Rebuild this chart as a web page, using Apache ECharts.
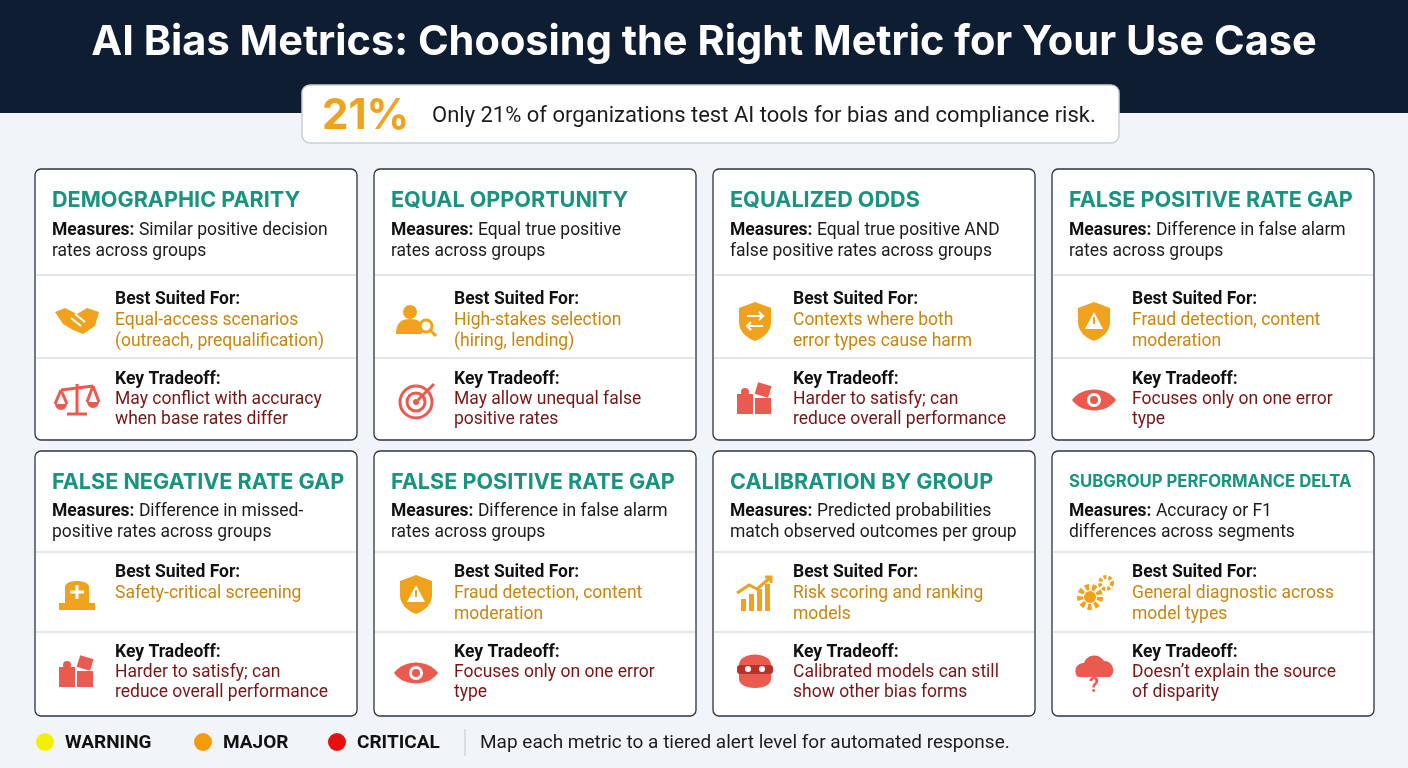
<!DOCTYPE html>
<html>
<head>
<meta charset="utf-8">
<script src="https://cdn.jsdelivr.net/npm/echarts@6/dist/echarts.min.js"></script>
<style>html,body{margin:0;padding:0;background:#f1f4f8}#main{width:1408px;height:768px}</style>
</head>
<body>
<div id="main"></div>
<script>
var titles = ['DEMOGRAPHIC PARITY', 'EQUAL OPPORTUNITY', 'EQUALIZED ODDS', 'FALSE POSITIVE RATE GAP',
  'FALSE NEGATIVE RATE GAP', 'FALSE POSITIVE RATE GAP', 'CALIBRATION BY GROUP', 'SUBGROUP PERFORMANCE DELTA'];
var measures = [
  ['Similar positive decision', 'rates across groups'],
  ['Equal true positive', 'rates across groups'],
  ['Equal true positive AND', 'false positive rates across groups'],
  ['Difference in false alarm', 'rates across groups'],
  ['Difference in missed-', 'positive rates across groups'],
  ['Difference in false alarm', 'rates across groups'],
  ['Predicted probabilities', 'match observed outcomes per group'],
  ['Accuracy or F1', 'differences across segments']
];
var bestFor = [
  ['Equal-access scenarios', '(outreach, prequalification)'],
  ['High-stakes selection', '(hiring, lending)'],
  ['Contexts where both', 'error types cause harm'],
  ['Fraud detection, content', 'moderation'],
  ['Safety-critical screening'],
  ['Fraud detection, content', 'moderation'],
  ['Risk scoring and ranking', 'models'],
  ['General diagnostic across', 'model types']
];
var tradeoffs = [
  ['May conflict with accuracy', 'when base rates differ'],
  ['May allow unequal false', 'positive rates'],
  ['Harder to satisfy; can', 'reduce overall performance'],
  ['Focuses only on one error', 'type'],
  ['Harder to satisfy; can', 'reduce overall performance'],
  ['Focuses only on one error', 'type'],
  ['Calibrated models can still', 'show other bias forms'],
  ["Doesn\u2019t explain the source", 'of disparity']
];
var bestIcons = ['hand', 'person', 'shield', 'alert', 'siren', 'alert', 'chart', 'gear'];
var tradeIcons = ['scale', 'target', 'puzzle', 'eye', 'puzzle', 'eye', 'mask', 'cloud'];
var alertLevels = ['WARNING', 'MAJOR', 'CRITICAL'];
var alertColors = ['#f5f000', '#f59a0c', '#ea0f0f'];
var alertX = [45, 203, 337];

var FONT = 'Roboto, "Noto Sans", sans-serif';
var ORANGE = '#f0a21c', CORAL = '#ea5a4e';
var g = [];
var pathCount = 0;

function svgPath(d, style) {
  var name = 'svgp' + (pathCount++);
  echarts.graphic.registerShape(name, echarts.graphic.extendPath(d, {}));
  return {type: name, style: style};
}
function txt(x, y, s, size, color, weight, align, font) {
  g.push({type: 'text', x: x, y: y, style: {text: s, fontSize: size, fill: color, fontWeight: weight || 'normal',
    fontFamily: font || FONT, textAlign: align || 'left', textVerticalAlign: 'middle'}});
}
function icon(kind, cx, cy, color) {
  var c = [];
  var st = {fill: color};
  var so = {fill: 'none', stroke: color, lineWidth: 3};
  var wl = {fill: 'none', stroke: '#fff', lineWidth: 2};
  if (kind === 'shield' || kind === 'alert') {
    c.push(svgPath('M0,-18 L16,-12 L16,2 C16,12 8,18 0,21 C-8,18 -16,12 -16,2 L-16,-12 Z', st));
    if (kind === 'alert') c.push({type: 'polygon', shape: {points: [[0, -8], [9, 9], [-9, 9]]}, style: {fill: '#fff'}},
      {type: 'rect', shape: {x: -1, y: -3, width: 2, height: 7}, style: {fill: color}});
    else c.push(svgPath('M-8,-4 L8,-4 M4,-8 L8,-4 L4,0 M8,6 L-8,6 M-4,2 L-8,6 L-4,10', wl));
  } else if (kind === 'hand') {
    c.push(svgPath('M-22,-8 L-12,-12 L0,-6 L10,-12 L22,-8 L18,6 L6,14 L-4,10 L-14,4 Z', st));
    c.push(svgPath('M-6,-2 L4,6 M-2,-6 L8,2', wl));
  } else if (kind === 'person') {
    c.push({type: 'circle', shape: {cx: -6, cy: -8, r: 7}, style: st});
    c.push(svgPath('M-20,14 C-20,2 -14,-1 -6,-1 C2,-1 6,2 6,8 L6,14 Z', st));
    c.push({type: 'circle', shape: {cx: 10, cy: 6, r: 6}, style: {fill: '#fff', stroke: color, lineWidth: 3}});
    c.push({type: 'line', shape: {x1: 14, y1: 10, x2: 20, y2: 16}, style: {stroke: color, lineWidth: 3}});
  } else if (kind === 'siren') {
    c.push(svgPath('M-12,10 L-12,-6 C-12,-14 12,-14 12,-6 L12,10 Z', st));
    c.push({type: 'rect', shape: {x: -18, y: 10, width: 36, height: 7}, style: st});
    c.push(svgPath('M0,-8 L0,6 M-7,-1 L7,-1', {fill: 'none', stroke: '#fff', lineWidth: 3}));
  } else if (kind === 'chart') {
    [-14, -6, 2, 10].forEach(function (x, i) {
      c.push({type: 'rect', shape: {x: x, y: 6 - i * 5, width: 5, height: 12 + i * 5}, style: st});
    });
    c.push(svgPath('M-18,0 L-6,-8 L2,-4 L16,-16 M10,-16 L16,-16 L16,-10', so));
  } else if (kind === 'gear') {
    c.push({type: 'circle', shape: {cx: -4, cy: 4, r: 10}, style: {fill: 'none', stroke: color, lineWidth: 6, lineDash: [4, 3]}});
    c.push({type: 'circle', shape: {cx: -4, cy: 4, r: 6}, style: st});
    c.push({type: 'circle', shape: {cx: 12, cy: -10, r: 6}, style: {fill: 'none', stroke: color, lineWidth: 4, lineDash: [3, 2]}});
  } else if (kind === 'scale') {
    c.push(svgPath('M0,-16 L0,14 M-10,14 L10,14 M-16,-10 L16,-14 M-16,-10 L-22,4 M-16,-10 L-10,4 M16,-14 L10,2 M16,-14 L22,2', so));
    c.push(svgPath('M-22,4 A6,6 0 0 0 -10,4 Z M10,2 A6,6 0 0 0 22,2 Z', st));
  } else if (kind === 'target') {
    c.push({type: 'circle', shape: {cx: 0, cy: 2, r: 16}, style: so});
    c.push({type: 'circle', shape: {cx: 0, cy: 2, r: 9}, style: so});
    c.push({type: 'circle', shape: {cx: 0, cy: 2, r: 3}, style: st});
    c.push({type: 'line', shape: {x1: 2, y1: 0, x2: 18, y2: -16}, style: {stroke: color, lineWidth: 3}});
  } else if (kind === 'puzzle') {
    c.push({type: 'rect', shape: {x: -18, y: -6, width: 16, height: 20}, style: st});
    c.push({type: 'rect', shape: {x: 0, y: -2, width: 16, height: 16}, style: st});
    c.push({type: 'rect', x: 2, y: -14, shape: {x: 0, y: -4, width: 14, height: 12}, style: st, rotation: -0.3});
    c.push({type: 'circle', shape: {cx: -10, cy: -8, r: 4}, style: st});
  } else if (kind === 'eye') {
    c.push(svgPath('M-22,0 C-12,-14 12,-14 22,0 C12,14 -12,14 -22,0 Z', st));
    c.push({type: 'circle', shape: {cx: 0, cy: 0, r: 7}, style: {fill: '#fff'}});
    c.push({type: 'circle', shape: {cx: 0, cy: 0, r: 4}, style: st});
  } else if (kind === 'mask') {
    c.push(svgPath('M-16,-8 C-16,-22 16,-22 16,-8 L16,6 C16,18 -16,18 -16,6 Z', st));
    c.push({type: 'rect', shape: {x: -18, y: -8, width: 36, height: 9, r: 3}, style: {fill: '#b8322a'}});
    c.push({type: 'circle', shape: {cx: -7, cy: -4, r: 3}, style: {fill: '#fff'}});
    c.push({type: 'circle', shape: {cx: 7, cy: -4, r: 3}, style: {fill: '#fff'}});
  } else if (kind === 'cloud') {
    c.push(svgPath('M-16,4 A8,8 0 0 1 -10,-10 A11,11 0 0 1 10,-12 A9,9 0 0 1 16,4 Z', st));
    c.push({type: 'text', x: 0, y: 14, style: {text: '?', fontSize: 20, fontWeight: 'bold', fill: color, textAlign: 'center', textVerticalAlign: 'middle', fontFamily: FONT}});
  }
  g.push({type: 'group', x: cx, y: cy, children: c});
}

// header
g.push({type: 'rect', shape: {x: 0, y: 0, width: 1408, height: 113}, style: {fill: '#0f1d33'}});
txt(704, 43, 'AI Bias Metrics: Choosing the Right Metric for Your Use Case', 41.5, '#fff', 'bold', 'center', 'Inter, Roboto, sans-serif');
g.push({type: 'rect', shape: {x: 302, y: 85, width: 817, height: 58, r: 8}, style: {fill: '#fff', stroke: '#c9d0d8', lineWidth: 1.5}});
txt(322, 116, '21%', 42, ORANGE, 'bold', 'left', 'Inter, Roboto, sans-serif');
txt(432, 116, 'Only 21% of organizations test AI tools for bias and compliance risk.', 22, '#1b1b1b');

// cards
var colX = [35, 374, 713, 1052];
var rows = [
  {y: 169, h: 271, title: 200, m: 231, d1: 275, b: 300, d2: 358, k: 380},
  {y: 451, h: 265, title: 482, m: 512, d1: 552, b: 573, d2: 632, k: 653}
];
titles.forEach(function (t, i) {
  var x = colX[i % 4], r = rows[Math.floor(i / 4)];
  g.push({type: 'rect', shape: {x: x, y: r.y, width: 322, height: r.h, r: 6}, style: {fill: '#fff', stroke: '#2b3440', lineWidth: 1.3}});
  var small = t.length > 24;
  txt(x + 17, r.title, t, small ? 16.7 : 21.6, '#17937f', 'bold', 'left', 'Inter, Roboto, sans-serif');
  g.push({type: 'text', x: x + 17, y: r.m, style: {text: '{b|Measures:} ' + measures[i][0], rich: {b: {fontWeight: 'bold', fontSize: 17.5, fill: '#111', fontFamily: FONT}},
    fontSize: 17.5, fill: '#1b1b1b', fontFamily: FONT, textVerticalAlign: 'middle'}});
  txt(x + 17, r.m + 21, measures[i][1], 17.5, '#1b1b1b');
  g.push({type: 'line', shape: {x1: x + 1, y1: r.d1, x2: x + 321, y2: r.d1}, style: {stroke: '#d9dde2', lineWidth: 1.3}});
  g.push({type: 'line', shape: {x1: x + 1, y1: r.d2, x2: x + 321, y2: r.d2}, style: {stroke: '#d9dde2', lineWidth: 1.3}});
  txt(x + 80, r.b, 'Best Suited For:', 17.5, '#111', 'bold');
  bestFor[i].forEach(function (s, j) { txt(x + 80, r.b + 21 * (j + 1), s, 17.5, '#c8860e'); });
  txt(x + 80, r.k, 'Key Tradeoff:', 17.5, '#111', 'bold');
  tradeoffs[i].forEach(function (s, j) { txt(x + 80, r.k + 20 * (j + 1), s, 17.5, '#7a1414'); });
  icon(bestIcons[i], x + 42, r.b + 20, ORANGE);
  icon(tradeIcons[i], x + 42, r.k + 20, CORAL);
});

// legend
alertLevels.forEach(function (s, i) {
  g.push({type: 'circle', shape: {cx: alertX[i], cy: 742, r: 9}, style: {fill: alertColors[i]}});
  txt(alertX[i] + 20, 743, s, 19, '#111', 'bold', 'left', '"Liberation Sans Narrow", Roboto, sans-serif');
});
g.push({type: 'line', shape: {x1: 465, y1: 729, x2: 465, y2: 756}, style: {stroke: '#c5cad0', lineWidth: 1}});
txt(480, 743, 'Map each metric to a tiered alert level for automated response.', 19, '#1b1b1b', 'normal', 'left', '"Liberation Sans Narrow", Roboto, sans-serif');

var chart = echarts.init(document.getElementById('main'));
chart.setOption({backgroundColor: '#f1f4f8', graphic: {elements: g}});
</script>
</body>
</html>
